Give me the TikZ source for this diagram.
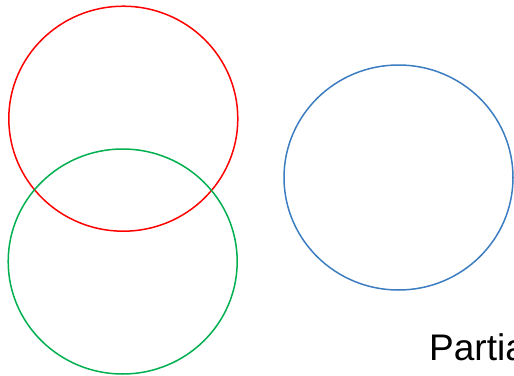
\documentclass[tikz,border=0pt]{standalone}
\usepackage{fontspec}
\setmainfont{Liberation Sans}
\usetikzlibrary{shapes.geometric}
\definecolor{SetRed}{HTML}{FF0000}
\definecolor{SetGreen}{HTML}{00B050}
\definecolor{SetBlue}{HTML}{3B7DC0}
\tikzset{
  setring/.style={ellipse,draw=#1,line width=1.5pt,inner sep=0pt,outer sep=0pt,
    minimum width=229pt,minimum height=225pt}
}
\begin{document}
\begin{tikzpicture}[x=1pt,y=-1pt]
\useasboundingbox (0,0) rectangle (514,375);
\node[setring=SetRed] (red) at (123.3,118.7) {};
\node[setring=SetGreen] (green) at (122.7,261.5) {};
\node[setring=SetBlue] (blue) at (398.5,177.5) {};
\node[anchor=base west,inner sep=0pt,font=\fontsize{37}{40}\selectfont] (caption) at (429,360) {Partial};
\end{tikzpicture}
\end{document}
